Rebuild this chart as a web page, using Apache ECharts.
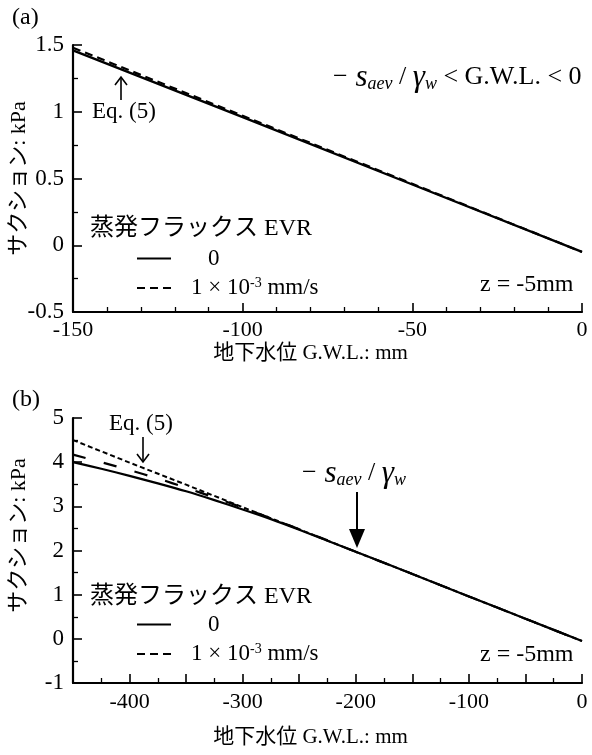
<!DOCTYPE html>
<html><head><meta charset="utf-8">
<script src="https://cdn.jsdelivr.net/npm/echarts@6/dist/echarts.min.js"></script>
<style>html,body{margin:0;padding:0;background:#fff}#c{width:592px;height:755px}</style>
</head><body><div id="c"></div>
<script>
// ---- data ----
const gwlA = [-150, -100, -50, 0];
const evr0A = [1.46, 0.96, 0.455, -0.05];
const evr3A = [1.48, 0.97, 0.46, -0.05];

const gwlB = [-450, -425, -400, -375, -350, -325, -300, -275, -250, -225, -200, -150, -100, -50, 0];
const evr0B = [4.00, 3.85, 3.69, 3.52, 3.34, 3.14, 2.93, 2.71, 2.47, 2.22, 1.97, 1.47, 0.96, 0.455, -0.05];
const evr3B = [4.17, 4.00, 3.82, 3.63, 3.42, 3.20, 2.97, 2.73, 2.48, 2.23, 1.97, 1.47, 0.96, 0.455, -0.05];
const gwlEq = [-450, -400, -350, -300, -250, -200, -150, -100, -50, 0];
const eq5B = [4.50, 3.99, 3.49, 2.98, 2.48, 1.97, 1.47, 0.96, 0.455, -0.05];

const xTicksA = [-150, -100, -50, 0];
const xTicksB = [-400, -300, -200, -100, 0];
const names = ['0', '1×10-3 mm/s', 'Eq. (5)'];

const FF = "'Liberation Serif', 'Noto Sans CJK JP', serif";
const zip = (xs, ys) => xs.map((x, i) => [x, ys[i]]);

const axisCommon = {
  axisLine: { show: true, onZero: false, lineStyle: { color: '#000', width: 2.2 } },
  axisTick: { show: true, inside: true, length: 9, lineStyle: { color: '#000', width: 1.6 } },
  minorTick: { show: true, length: 5, lineStyle: { color: '#000', width: 1.3 } },
  splitLine: { show: false },
  axisLabel: { color: '#000', fontFamily: FF, fontSize: 22 },
  nameTextStyle: { color: '#000', fontFamily: FF, fontSize: 21 },
  nameMoveOverlap: false
};

function legendFmt(n) {
  if (n === names[0]) return '{z|0}';
  return '{t|1 × 10}{sup|-3}{t| mm/s}';
}
const legendRich = {
  z: { fontFamily: FF, fontSize: 23, color: '#000', padding: [0, 0, 0, 17], lineHeight: 24 },
  t: { fontFamily: FF, fontSize: 23, color: '#000', lineHeight: 24 },
  sup: { fontFamily: FF, fontSize: 14, color: '#000', verticalAlign: 'top', lineHeight: 24 }
};
function legend(top) {
  return {
    data: [names[0], names[1]], orient: 'vertical', left: 136, top: top, padding: 0,
    itemWidth: 34, itemHeight: 14, itemGap: 6, formatter: legendFmt,
    itemStyle: { opacity: 0 },
    textStyle: { rich: legendRich, padding: [0, 0, 0, 15] }, selectedMode: false
  };
}

const formulaRich = {
  n: { fontFamily: FF, fontSize: 26, color: '#000', lineHeight: 32, verticalAlign: 'middle' },
  i: { fontFamily: FF, fontSize: 31, fontStyle: 'italic', color: '#000', lineHeight: 32, verticalAlign: 'middle' },
  sub: { fontFamily: FF, fontSize: 18, fontStyle: 'italic', color: '#000', lineHeight: 32, verticalAlign: 'bottom' }
};

const chart = echarts.init(document.getElementById('c'), null, { renderer: 'canvas' });
chart.setOption({
  backgroundColor: '#fff',
  animation: false,
  grid: [
    { left: 73, right: 10, top: 45, bottom: 443, outerBoundsMode: 'none', containLabel: false },
    { left: 73, right: 10, top: 418, bottom: 72, outerBoundsMode: 'none', containLabel: false }
  ],
  xAxis: [
    Object.assign({}, axisCommon, {
      gridIndex: 0, type: 'value', min: -150, max: 0, interval: 50,
      minorTick: Object.assign({}, axisCommon.minorTick, { splitNumber: 5 }),
      axisLabel: Object.assign({}, axisCommon.axisLabel, { margin: 7,
        formatter: v => xTicksA.includes(v) ? String(v) : '' }),
      name: '地下水位 G.W.L.: mm', nameLocation: 'middle', nameGap: 31,
      nameTextStyle: Object.assign({}, axisCommon.nameTextStyle, { padding: [0, 34, 0, 0] })
    }),
    Object.assign({}, axisCommon, {
      gridIndex: 1, type: 'value', min: -450, max: 0, interval: 50,
      minorTick: Object.assign({}, axisCommon.minorTick, { splitNumber: 2 }),
      axisLabel: Object.assign({}, axisCommon.axisLabel, { margin: 8,
        formatter: v => xTicksB.includes(v) ? String(v) : '' }),
      name: '地下水位 G.W.L.: mm', nameLocation: 'middle', nameGap: 44,
      nameTextStyle: Object.assign({}, axisCommon.nameTextStyle, { padding: [0, 34, 0, 0] })
    })
  ],
  yAxis: [
    Object.assign({}, axisCommon, {
      gridIndex: 0, type: 'value', min: -0.5, max: 1.5, interval: 0.5,
      minorTick: Object.assign({}, axisCommon.minorTick, { splitNumber: 2 }),
      axisLabel: Object.assign({}, axisCommon.axisLabel, { margin: 9, fontSize: 23 }),
      name: 'サクション: kPa', nameLocation: 'middle', nameGap: 43, nameRotate: 90,
      nameTextStyle: Object.assign({}, axisCommon.nameTextStyle, { fontSize: 22 })
    }),
    Object.assign({}, axisCommon, {
      gridIndex: 1, type: 'value', min: -1, max: 5, interval: 1,
      minorTick: Object.assign({}, axisCommon.minorTick, { splitNumber: 2 }),
      axisLabel: Object.assign({}, axisCommon.axisLabel, { margin: 9, fontSize: 23 }),
      name: 'サクション: kPa', nameLocation: 'middle', nameGap: 43, nameRotate: 90,
      nameTextStyle: Object.assign({}, axisCommon.nameTextStyle, { fontSize: 22, padding: [0, 0, 0, 30] })
    })
  ],
  legend: [legend(247), legend(613)],
  series: [
    { name: names[0], type: 'line', xAxisIndex: 0, yAxisIndex: 0, data: zip(gwlA, evr0A),
      symbol: 'none', lineStyle: { color: '#000', width: 2.4, type: 'solid' }, itemStyle: { color: '#000' } },
    { name: names[1], type: 'line', xAxisIndex: 0, yAxisIndex: 0, data: zip(gwlA, evr3A),
      symbol: 'none', lineStyle: { color: '#000', width: 2.2, type: [8, 5] }, itemStyle: { color: '#000' } },
    { name: names[0], type: 'line', xAxisIndex: 1, yAxisIndex: 1, data: zip(gwlB, evr0B), smooth: 0.3,
      symbol: 'none', lineStyle: { color: '#000', width: 2.2, type: 'solid' }, itemStyle: { color: '#000' } },
    { name: names[1], type: 'line', xAxisIndex: 1, yAxisIndex: 1, data: zip(gwlB, evr3B), smooth: 0.3,
      symbol: 'none', lineStyle: { color: '#000', width: 2.2, type: [13, 19] }, itemStyle: { color: '#000' } },
    { name: names[2], type: 'line', xAxisIndex: 1, yAxisIndex: 1, data: zip(gwlEq, eq5B),
      symbol: 'none', lineStyle: { color: '#000', width: 2, type: [5, 3] }, itemStyle: { color: '#000' } }
  ],
  graphic: [
    { type: 'text', left: 12, top: 6, style: { text: '(a)', font: '24px ' + FF, fill: '#000' } },
    { type: 'text', left: 12, top: 388, style: { text: '(b)', font: '24px ' + FF, fill: '#000' } },
    { type: 'text', left: 90, top: 217, style: { text: '蒸発フラックス EVR', font: '24px ' + FF, fill: '#000' } },
    { type: 'text', left: 90, top: 585, style: { text: '蒸発フラックス EVR', font: '24px ' + FF, fill: '#000' } },
    { type: 'text', left: 480, top: 273, style: { text: 'z = -5mm', font: '24px ' + FF, fill: '#000' } },
    { type: 'text', left: 480, top: 643, style: { text: 'z = -5mm', font: '24px ' + FF, fill: '#000' } },
    { type: 'text', left: 333, top: 62, style: {
        text: '{n|−}{i| s}{sub|aev}{n| / }{i|γ}{sub|w}{n| < G.W.L. < 0}', rich: formulaRich } },
    { type: 'text', left: 302, top: 458, style: {
        text: '{n|−}{i| s}{sub|aev}{n| / }{i|γ}{sub|w}', rich: formulaRich } },
    { type: 'text', left: 92, top: 100, style: { text: 'Eq. (5)', font: '23px ' + FF, fill: '#000' } },
    { type: 'line', shape: { x1: 121, y1: 100, x2: 121, y2: 77 }, style: { stroke: '#000', lineWidth: 1.6 } },
    { type: 'polyline', shape: { points: [[115, 85], [121, 77], [127, 85]] }, style: { stroke: '#000', lineWidth: 1.6, fill: null } },
    { type: 'text', left: 109, top: 412, style: { text: 'Eq. (5)', font: '23px ' + FF, fill: '#000' } },
    { type: 'line', shape: { x1: 143, y1: 437, x2: 143, y2: 462 }, style: { stroke: '#000', lineWidth: 1.6 } },
    { type: 'polyline', shape: { points: [[137, 454], [143, 462], [149, 454]] }, style: { stroke: '#000', lineWidth: 1.6, fill: null } },
    { type: 'line', shape: { x1: 357, y1: 492, x2: 357, y2: 532 }, style: { stroke: '#000', lineWidth: 2 } },
    { type: 'polygon', shape: { points: [[349, 529], [365, 529], [357, 548]] }, style: { fill: '#000' } }
  ]
});
</script></body></html>
